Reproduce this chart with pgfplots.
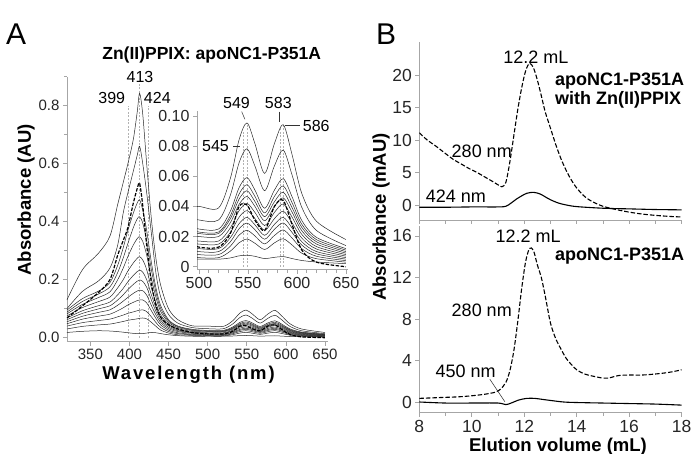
\documentclass[border=0pt]{standalone}
\usepackage{fontspec}
\setmainfont{Liberation Sans}
\newfontfamily\spaced[LetterSpace=10]{Liberation Sans}
\usepackage{pgfplots}
\pgfplotsset{compat=1.18}
\usepackage{pgfplotstable}

% UV-vis titration spectra, one column per trace (d = dashed trace)
\pgfplotstableread{
x   c1     c2     c3     c4     c5     c6     c7     c8     c9     c10    c11    c12    c13    d
320 .130   .100   .095   .088   .082   .075   .068   .062   .055   .048   .040   .030   .018   .068
340 .235   .160   .135   .125   .115   .104   .093   .084   .074   .064   .052   .039   .022   .110
360 .290   .195   .160   .150   .138   .124   .110   .099   .087   .074   .059   .044   .024   .155
375 .350   .240   .190   .175   .158   .140   .123   .110   .096   .081   .064   .047   .023   .200
385 .460   .320   .250   .225   .200   .172   .148   .130   .112   .093   .072   .052   .021   .285
392 .535   .430   .310   .275   .240   .200   .170   .148   .126   .103   .078   .056   .019   .335
398 .600   .500   .370   .325   .280   .230   .193   .166   .139   .113   .084   .060   .017   .380
405 .685   .575   .430   .380   .320   .258   .215   .184   .153   .122   .089   .063   .015   .465
410 .780   .630   .465   .410   .342   .274   .228   .195   .161   .128   .093   .065   .014   .515
413 .843   .660   .475   .417   .348   .279   .233   .199   .164   .130   .095   .067   .014   .532
417 .770   .600   .440   .395   .332   .268   .226   .194   .162   .130   .096   .068   .014   .455
422 .600   .500   .370   .335   .285   .235   .200   .174   .147   .120   .090   .065   .016   .320
428 .410   .360   .260   .235   .205   .172   .148   .130   .111   .093   .072   .053   .018   .190
434 .270   .220   .170   .155   .138   .118   .102   .090   .078   .066   .052   .039   .017   .110
440 .180   .140   .110   .100   .090   .078   .068   .060   .052   .044   .035   .026   .014   .070
450 .100   .080   .062   .058   .053   .047   .041   .036   .031   .026   .021   .016   .010   .045
462 .062   .050   .040   .038   .035   .031   .027   .024   .021   .017   .014   .010   .007   .030
480 .041   .035   .029   .027   .025   .022   .019   .017   .015   .012   .010   .008   .005   .018
500 .040   .031   .025   .023   .022   .020   .017   .015   .012   .010   .008   .006   .005   .013
520 .039   .031   .025   .023   .022   .020   .017   .015   .012   .010   .008   .006   .005   .013
532 .0585  .0474  .0368  .0338  .0318  .0292  .0257  .0227  .0192  .0165  .0136  .0103  .0058  .022
541 .0844  .0691  .0525  .0483  .0449  .0414  .0372  .0329  .0286  .0252  .0210  .0159  .0072  .040
549 .0954  .0783  .0591  .0544  .0504  .0466  .0420  .0372  .0327  .0289  .0241  .0183  .0076  .041
557 .0819  .0670  .0510  .0468  .0434  .0401  .0361  .0320  .0279  .0246  .0205  .0156  .0069  .031
567 .0619  .0504  .0388  .0357  .0332  .0305  .0273  .0241  .0208  .0182  .0151  .0114  .0054  .024
577 .0817  .0669  .0508  .0466  .0431  .0399  .0360  .0319  .0281  .0248  .0207  .0158  .0062  .040
586 .0942  .0774  .0584  .0536  .0494  .0457  .0416  .0368  .0327  .0290  .0244  .0185  .0067  .044
595 .0744  .0609  .0464  .0425  .0392  .0362  .0329  .0291  .0257  .0227  .0190  .0144  .0054  .028
605 .0485  .0393  .0306  .0281  .0260  .0238  .0214  .0189  .0165  .0143  .0119  .0089  .0041  .011
620 .0301  .0240  .0194  .0179  .0165  .0150  .0133  .0117  .0100  .0085  .0069  .0053  .0031  .003
650 .018   .014   .012   .011   .010   .009   .008   .007   .006   .005   .004   .003   .002   .000
}\spectra

% SEC traces
\pgfplotstableread{
v     a280
8.0   11.1
8.3   10.0
8.66  8.97
9.0   7.9
9.3   7.0
9.6   6.3
9.9   5.6
10.2  5.0
10.5  4.3
10.8  3.6
11.0  3.1
11.15 2.8
11.3  3.5
11.45 6.6
11.6  10.6
11.75 14.6
11.9  18.0
12.05 20.6
12.2  21.8
12.35 21.1
12.5  19.2
12.65 16.8
12.8  14.3
13.0  11.8
13.2  9.3
13.4  7.1
13.6  5.3
13.8  3.8
14.0  2.6
14.3  1.3
14.6  0.5
15.0  -0.2
15.5  -0.7
16.0  -1.1
16.5  -1.4
17.0  -1.6
17.5  -1.75
18.0  -1.85
}\secZn
\pgfplotstableread{
v     a424
8.0   -0.35
9.0   -0.35
10.0  -0.3
11.0  -0.3
11.3  -0.2
11.5  0.3
11.7  0.9
11.9  1.4
12.1  1.8
12.35 1.95
12.6  1.7
12.8  1.25
13.0  0.8
13.3  0.3
13.6  0.0
14.0  -0.25
15.0  -0.5
16.0  -0.6
17.0  -0.7
18.0  -0.75
}\secZnb
\pgfplotstableread{
v     a280
8.0   0.35
8.5   0.4
9.0   0.45
9.5   0.5
10.0  0.6
10.5  0.75
10.9  0.95
11.1  1.25
11.3  1.9
11.45 3.0
11.6  4.9
11.75 7.7
11.9  10.9
12.05 13.5
12.2  14.8
12.35 14.6
12.5  13.2
12.65 12.0
12.8  10.2
13.0  7.6
13.2  6.1
13.4  5.1
13.6  4.2
13.8  3.6
14.0  3.1
14.3  2.7
14.6  2.5
15.0  2.3
15.2  2.3
15.6  2.55
16.0  2.6
16.5  2.6
17.0  2.7
17.5  2.85
18.0  3.1
}\secApo
\pgfplotstableread{
v     a450
8.0   0.0
9.0   -0.1
10.0  -0.1
11.0  -0.1
11.3  -0.25
11.5  -0.1
11.8  0.2
12.1  0.35
12.4  0.35
12.7  0.25
13.0  0.15
13.5  0.0
14.0  -0.05
15.0  -0.1
16.0  -0.15
17.0  -0.2
18.0  -0.3
}\secApob

\pgfplotsset{
  pan/.style={scale only axis, anchor=south west,
    axis x line*=bottom, axis y line*=left,
    axis line style={-, gray!70, line width=0.6pt},
    tick style={gray!70, line width=0.6pt},
    tick align=outside, major tick length=4pt, minor tick length=3pt,
    tick label style={text=black!85},
    scaled ticks=false, clip mode=individual},
  spec/.style={black!85, line width=0.5pt, smooth},
  dspec/.style={black, line width=1.2pt, dash pattern=on 3.5pt off 1.5pt, smooth},
  vline/.style={gray!60, line width=0.4pt, dash pattern=on 2pt off 1.5pt},
}

\begin{document}
\begin{tikzpicture}
\useasboundingbox (0pt,0pt) rectangle (691pt,454pt);

% ---------- panel A ----------
\begin{axis}[pan, at={(66.9pt,112.3pt)}, width=261.2pt, height=265pt,
  xmin=320, xmax=654, ymin=-0.0138, ymax=0.9,
  xtick={350,400,450,500,550,600,650},
  xticklabels={350,400,450,500,550,600,650},
  ytick={0,0.2,0.4,0.6,0.8}, yticklabels={0.0,0.2,0.4,0.6,0.8},
  minor ytick={0.1,0.3,0.5,0.7,0.9},
  tick label style={font=\fontsize{15}{15}\selectfont}]
\addplot[vline] coordinates {(399,0) (399,0.80)};
\addplot[vline] coordinates {(413,0) (413,0.88)};
\addplot[vline] coordinates {(424,0) (424,0.80)};
\pgfplotsinvokeforeach{c1,c2,c3,c4,c5,c6,c7,c8,c9,c10,c11,c12,c13}{
  \addplot[spec] table[x=x,y=#1]{\spectra};
}
\addplot[dspec] table[x=x,y=d]{\spectra};
\node[font=\fontsize{16}{16}\selectfont] at (axis cs:413.5,0.9) {413};
\node[font=\fontsize{16}{16}\selectfont, anchor=east, inner sep=1pt] at (axis cs:396,0.826) {399};
\node[font=\fontsize{16}{16}\selectfont, anchor=west, inner sep=1pt] at (axis cs:417,0.826) {424};
\end{axis}

% inset
\begin{axis}[pan, at={(197pt,184.3pt)}, width=150.9pt, height=158.2pt,
  xmin=498, xmax=652, ymin=-0.002, ymax=0.103,
  xtick={500,550,600,650}, xticklabels={500,550,600,650},
  minor xtick={510,520,530,540,560,570,580,590,610,620,630,640},
  ytick={0,0.02,0.04,0.06,0.08,0.1},
  yticklabels={0,0.02,0.04,0.06,0.08,0.10},
  tick label style={font=\fontsize{16}{16}\selectfont}]
\addplot[vline] coordinates {(545,0) (545,0.090)};
\addplot[vline] coordinates {(549,0) (549,0.094)};
\addplot[vline] coordinates {(583,0) (583,0.092)};
\addplot[vline] coordinates {(586,0) (586,0.094)};
\pgfplotsinvokeforeach{c1,c2,c3,c4,c5,c6,c7,c8,c9,c10,c11,c12,c13}{
  \addplot[spec] table[x=x,y=#1]{\spectra};
}
\addplot[dspec] table[x=x,y=d]{\spectra};
\node[font=\fontsize{16}{16}\selectfont] at (axis cs:538.3,0.1088) {549};
\draw[black!80, line width=0.5pt] (axis cs:543.6,0.1029) -- (axis cs:546.9,0.0978);
\node[font=\fontsize{16}{16}\selectfont] at (axis cs:581,0.1088) {583};
\draw[black!80, line width=0.5pt] (axis cs:582.1,0.1029) -- (axis cs:582.1,0.0962);
\node[font=\fontsize{16}{16}\selectfont, anchor=west, inner sep=1pt] at (axis cs:604.8,0.0934) {586};
\draw[black!80, line width=0.5pt] (axis cs:587.8,0.0940) -- (axis cs:603.1,0.0940);
\node[font=\fontsize{16}{16}\selectfont, anchor=east, inner sep=1pt] at (axis cs:531.7,0.0801) {545};
\draw[black!80, line width=0.5pt] (axis cs:534.8,0.0801) -- (axis cs:541.6,0.0801);
\end{axis}

% ---------- panel B top ----------
\begin{axis}[pan, at={(419.3pt,234pt)}, width=262.4pt, height=177.5pt,
  xmin=8, xmax=18, ymin=-2.31, ymax=25,
  xtick={8,9,10,11,12,13,14,15,16,17,18}, xticklabels={},
  ytick={0,5,10,15,20}, yticklabels={0,5,10,15,20},
  tick label style={font=\fontsize{17.5}{17.5}\selectfont}]
\addplot[black, line width=1.1pt, dash pattern=on 4.5pt off 2pt, smooth] table[x=v,y=a280]{\secZn};
\addplot[black, line width=1.1pt, smooth] table[x=v,y=a424]{\secZnb};
\node[font=\fontsize{18}{18}\selectfont] at (axis cs:12.44,22.8) {12.2 mL};
\node[font=\fontsize{18}{18}\selectfont] at (axis cs:10.38,8.2) {280 nm};
\node[font=\fontsize{18}{18}\selectfont] at (axis cs:9.39,1.28) {424 nm};
\node[font=\bfseries\fontsize{18}{18}\selectfont, anchor=west, inner sep=0pt] at (axis cs:13.17,19.08) {apoNC1-P351A};
\node[font=\bfseries\fontsize{18}{18}\selectfont, anchor=west, inner sep=0pt] at (axis cs:13.17,16.15) {with Zn(II)PPIX};
\end{axis}

% ---------- panel B bottom ----------
\begin{axis}[pan, at={(419.3pt,41.3pt)}, width=262.4pt, height=187.1pt,
  xmin=8, xmax=18, ymin=-1.03, ymax=17,
  xtick={8,10,12,14,16,18}, xticklabels={8,10,12,14,16,18},
  minor xtick={9,11,13,15,17},
  ytick={0,4,8,12,16}, yticklabels={0,4,8,12,16},
  tick label style={font=\fontsize{17.5}{17.5}\selectfont}]
\addplot[black, line width=1.1pt, dash pattern=on 4.5pt off 2pt, smooth] table[x=v,y=a280]{\secApo};
\addplot[black, line width=1.1pt, smooth] table[x=v,y=a450]{\secApob};
\node[font=\fontsize{18}{18}\selectfont] at (axis cs:12.15,15.93) {12.2 mL};
\node[font=\fontsize{18}{18}\selectfont] at (axis cs:10.38,8.8) {280 nm};
\node[font=\fontsize{18}{18}\selectfont] at (axis cs:9.77,2.92) {450 nm};
\draw[black!80, line width=0.5pt] (axis cs:10.69,2.19) -- (axis cs:11.26,0.03);
\node[font=\bfseries\fontsize{18}{18}\selectfont, anchor=west, inner sep=0pt] at (axis cs:13.17,14.07) {apoNC1-P351A};
\end{axis}

% ---------- labels ----------
\node[anchor=base west, inner sep=0pt, font=\fontsize{30}{30}\selectfont] at (6pt,409pt) {A};
\node[anchor=base west, inner sep=0pt, font=\fontsize{30}{30}\selectfont] at (376pt,409pt) {B};
\node[font=\bfseries\fontsize{17.5}{17.5}\selectfont] at (211.7pt,399pt) {Zn(II)PPIX: apoNC1-P351A};
\node[rotate=90, font=\bfseries\fontsize{18.5}{18.5}\selectfont] at (26pt,254pt) {Absorbance (AU)};
\node[font=\spaced\bfseries\fontsize{18.5}{18.5}\selectfont] at (188.5pt,79pt) {Wavelength (nm)};
\node[rotate=90, font=\bfseries\fontsize{18.5}{18.5}\selectfont] at (381pt,237pt) {Absorbance (mAU)};
\node[font=\bfseries\fontsize{18.5}{18.5}\selectfont] at (558pt,7.5pt) {Elution volume (mL)};
\end{tikzpicture}
\end{document}
